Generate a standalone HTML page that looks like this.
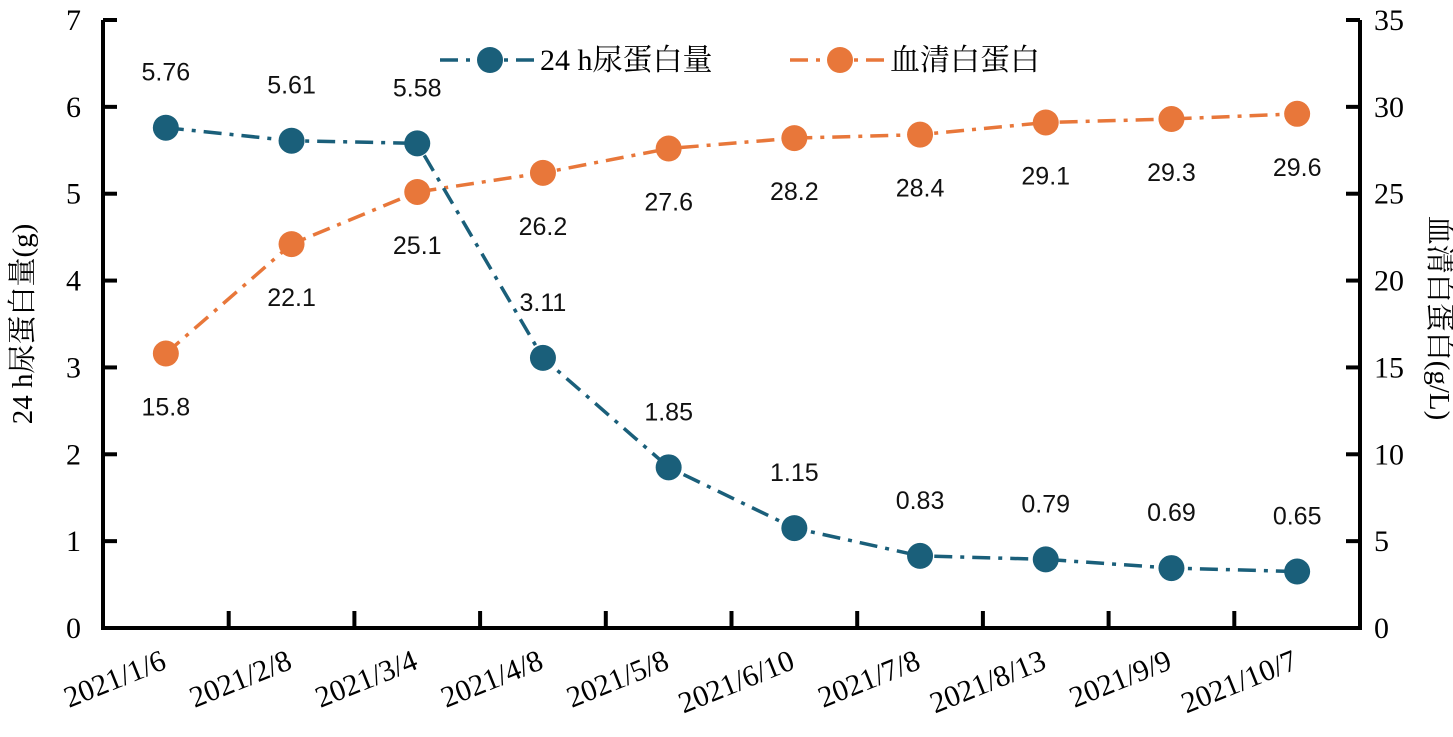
<!DOCTYPE html>
<html><head><meta charset="utf-8"><style>body{margin:0;background:#fff}svg{display:block}</style></head>
<body>
<svg id="c" width="1453" height="737" xmlns="http://www.w3.org/2000/svg"></svg>
<script>
const categories=["2021/1/6","2021/2/8","2021/3/4","2021/4/8","2021/5/8","2021/6/10","2021/7/8","2021/8/13","2021/9/9","2021/10/7"];
const urineProtein=[5.76,5.61,5.58,3.11,1.85,1.15,0.83,0.79,0.69,0.65];
const serumAlbumin=[15.8,22.1,25.1,26.2,27.6,28.2,28.4,29.1,29.3,29.6];
const leftTicks=[0,1,2,3,4,5,6,7];
const rightTicks=[0,5,10,15,20,25,30,35];
const NS="http://www.w3.org/2000/svg",svg=document.getElementById('c');
const L=103,R=1360,T=20,B=628,bw=(R-L)/categories.length;
const x=i=>L+bw*(i+0.5), yl=v=>B-(B-T)*v/7, yr=v=>B-(B-T)*v/35;
const BLUE="#1a5f7a",ORANGE="#e8773a";
function el(t,a,txt){const e=document.createElementNS(NS,t);for(const k in a)e.setAttribute(k,a[k]);if(txt!=null)e.textContent=txt;svg.appendChild(e);return e;}
const serif='"Liberation Serif","Noto Serif CJK SC",serif',sans='"Liberation Sans","Noto Sans CJK SC",sans-serif';
function series(vals,y,col,name,off){
 const p=el('polyline',{points:vals.map((v,i)=>x(i)+','+y(v)).join(' '),fill:'none',stroke:col,'stroke-width':3.5,'stroke-dasharray':'18,8,4,8'});
 
 vals.forEach((v,i)=>{const c=el('circle',{cx:x(i),cy:y(v),r:13,fill:col});
  
  const t=el('text',{x:x(i),y:y(v)+off,'text-anchor':'middle','font-family':sans,'font-size':25,fill:'#111'},String(v));
  });
}
series(serumAlbumin,yr,ORANGE,'serum-albumin',62);
series(urineProtein,yl,BLUE,'urine-protein',-47);
let a=el('path',{d:`M${L},${T} V${B} H${R} V${T}`,fill:'none',stroke:'#000','stroke-width':4});

leftTicks.forEach(v=>{el('line',{x1:L,x2:L+14,y1:yl(v),y2:yl(v),stroke:'#000','stroke-width':4});
 const t=el('text',{x:L-22,y:yl(v)+10,'text-anchor':'end','font-family':serif,'font-size':30},String(v));
 });
rightTicks.forEach(v=>{el('line',{x1:R-14,x2:R,y1:yr(v),y2:yr(v),stroke:'#000','stroke-width':4});
 const t=el('text',{x:R+14,y:yr(v)+10,'font-family':serif,'font-size':30},String(v));
 });
categories.forEach((c,i)=>{if(i>0)el('line',{x1:L+bw*i,x2:L+bw*i,y1:B,y2:B-17,stroke:'#000','stroke-width':4});
 const tx=x(i)+2,ty=B+40;
 const t=el('text',{x:tx,y:ty,'text-anchor':'end','font-family':serif,'font-size':30,transform:`rotate(-22 ${tx} ${ty})`},c);
 });
let t=el('text',{x:32,y:324,'text-anchor':'middle','font-family':serif,'font-size':29,transform:'rotate(-90 32 324)'},'24 h尿蛋白量(g)');

t=el('text',{x:1430,y:318,'text-anchor':'middle','font-family':serif,'font-size':29,transform:'rotate(90 1430 318)'},'血清白蛋白(g/L)');

[[BLUE,'24 h尿蛋白量',440,'legend-urine'],[ORANGE,'血清白蛋白',790,'legend-albumin']].forEach(([col,lab,lx,n])=>{
 el('line',{x1:lx,x2:lx+95,y1:60,y2:60,stroke:col,'stroke-width':3.5,'stroke-dasharray':'18,8,4,8'});
 el('circle',{cx:lx+50,cy:60,r:13,fill:col});
 const tt=el('text',{x:lx+100,y:70,'font-family':serif,'font-size':30},lab);
 });
</script>
</body></html>
